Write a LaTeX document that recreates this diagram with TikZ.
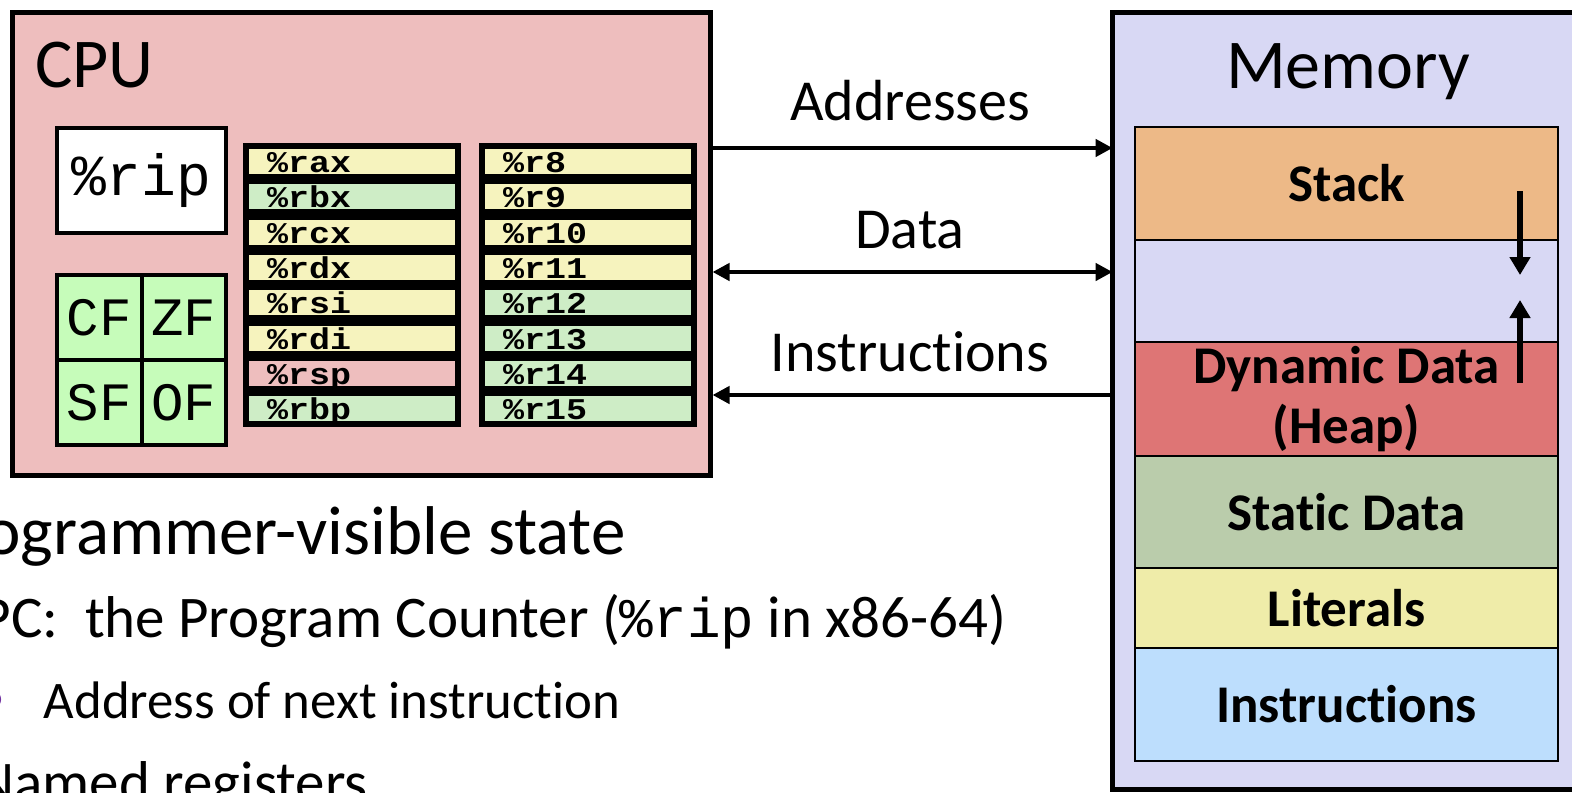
\documentclass[tikz,border=0pt]{standalone}
\usepackage{fontspec}
\setmainfont{Carlito}[Ligatures={NoCommon,NoRare}]
\setsansfont{Carlito}[Ligatures={NoCommon,NoRare}]
\setmonofont{Liberation Mono}
\usetikzlibrary{arrows.meta}
\definecolor{cpupink}{RGB}{238,190,190}
\definecolor{regyellow}{RGB}{246,243,190}
\definecolor{reggreen}{RGB}{206,237,198}
\definecolor{flaggreen}{RGB}{198,252,186}
\definecolor{memlav}{RGB}{216,216,244}
\definecolor{stackorange}{RGB}{237,185,135}
\definecolor{heapred}{RGB}{222,117,117}
\definecolor{staticgreen}{RGB}{186,204,171}
\definecolor{lityellow}{RGB}{239,236,169}
\definecolor{instrblue}{RGB}{189,222,253}
\definecolor{bulletpurple}{RGB}{112,48,160}
\newcommand{\regtext}[1]{\scalebox{1}[0.86]{#1}}
\begin{document}
\begin{tikzpicture}[x=0.5pt, y=-0.5pt,
    every node/.style={inner sep=0pt},
    >={Triangle[length=8.5pt,width=8.5pt]},
    bus/.style={line width=2.2pt},
    growth/.style={line width=2.8pt, -{Triangle[length=9pt,width=10pt]}},
    reg/.style={minimum width=103pt, minimum height=12.5pt, text height=11.75pt, text depth=0.75pt,
      inner xsep=9pt, text width=85pt, align=left, font=\ttfamily\bfseries\fontsize{17.5}{17.5}\selectfont},
    flag/.style={draw, line width=2pt, fill=flaggreen, minimum width=42.25pt, minimum height=42.5pt,
      font=\ttfamily\fontsize{27}{27}\selectfont},
    seg/.style={draw, line width=0.8pt, minimum width=211.5pt, align=center,
      font=\bfseries\fontsize{26.5}{30}\selectfont},
    buslabel/.style={anchor=base, font=\fontsize{29}{29}\selectfont}]
  \path[use as bounding box, fill=white] (0,0) rectangle (1572,792);

  \node[draw, line width=2.5pt, fill=cpupink, minimum width=349pt, minimum height=231pt] (cpu) at (361,244) {};
  \node[anchor=base west, font=\fontsize{35}{35}\selectfont] (cpulbl) at (35,88) {CPU};
  \node[draw, line width=2pt, fill=white, minimum width=84.5pt, minimum height=52.5pt,
    font=\ttfamily\fontsize{29}{29}\selectfont] (rip) at (141.5,180.5) {\%rip};

  \node[flag] (cf) at (99.25,317.5) {CF};
  \node[flag] (zf) at (183.75,317.5) {ZF};
  \node[flag] (sf) at (99.25,402.5) {SF};
  \node[flag] (of) at (183.75,402.5) {OF};

  \node[fill=black, minimum width=109pt, minimum height=142pt] (gprlo) at (352,285) {};
  \node[fill=black, minimum width=109pt, minimum height=142pt] (gprhi) at (588,285) {};
  \node[reg, fill=regyellow] (rax) at (352,161.5) {\regtext{\%rax}};
  \node[reg, fill=reggreen] (rbx) at (352,196.8) {\regtext{\%rbx}};
  \node[reg, fill=regyellow] (rcx) at (352,232.1) {\regtext{\%rcx}};
  \node[reg, fill=regyellow] (rdx) at (352,267.4) {\regtext{\%rdx}};
  \node[reg, fill=regyellow] (rsi) at (352,302.7) {\regtext{\%rsi}};
  \node[reg, fill=regyellow] (rdi) at (352,338.0) {\regtext{\%rdi}};
  \node[reg, fill=cpupink] (rsp) at (352,373.3) {\regtext{\%rsp}};
  \node[reg, fill=reggreen] (rbp) at (352,408.6) {\regtext{\%rbp}};
  \node[reg, fill=regyellow] (r8) at (588,161.5) {\regtext{\%r8}};
  \node[reg, fill=regyellow] (r9) at (588,196.8) {\regtext{\%r9}};
  \node[reg, fill=regyellow] (r10) at (588,232.1) {\regtext{\%r10}};
  \node[reg, fill=regyellow] (r11) at (588,267.4) {\regtext{\%r11}};
  \node[reg, fill=reggreen] (r12) at (588,302.7) {\regtext{\%r12}};
  \node[reg, fill=reggreen] (r13) at (588,338.0) {\regtext{\%r13}};
  \node[reg, fill=reggreen] (r14) at (588,373.3) {\regtext{\%r14}};
  \node[reg, fill=reggreen] (r15) at (588,408.6) {\regtext{\%r15}};

  \node[fill=memlav, minimum width=280pt, minimum height=388pt] (mem) at (1393,401) {};
  \draw[line width=2.5pt] (mem.north east) -- (mem.north west) -- (mem.south west) -- (mem.south east);
  \node[anchor=base, font=\fontsize{35}{35}\selectfont] (memlbl) at (1348,89) {Memory};
  \node[seg, fill=stackorange, minimum height=56.5pt] (stack) at (1346.5,183.5) {Stack};
  \node[seg, fill=memlav, minimum height=51pt] (free) at (1346.5,291) {};
  \node[seg, fill=heapred, minimum height=57pt] (heap) at (1346.5,399) {Dynamic Data\\(Heap)};
  \node[seg, fill=staticgreen, minimum height=56pt] (static) at (1346.5,512) {Static Data};
  \node[seg, fill=lityellow, minimum height=40pt] (literals) at (1346.5,608) {Literals};
  \node[seg, fill=instrblue, minimum height=56.5pt] (code) at (1346.5,704.5) {Instructions};

  \coordinate (stacktop) at (1520,191);
  \coordinate (stackgrow) at (1520,275);
  \coordinate (heaptop) at (1520,383);
  \coordinate (heapgrow) at (1520,300);
  \draw[growth] (stacktop) -- (stackgrow);
  \draw[growth] (heaptop) -- (heapgrow);

  \node[buslabel] (addrlbl) at (910,120) {Addresses};
  \node[buslabel] (datalbl) at (910,248) {Data};
  \node[buslabel] (instrlbl) at (910,371) {Instructions};
  \coordinate (addrbus) at (910,148);
  \coordinate (databus) at (910,272);
  \coordinate (instrbus) at (910,395);
  \draw[bus, ->] (cpu.east |- addrbus) -- (mem.west |- addrbus);
  \draw[bus, <->] (cpu.east |- databus) -- (mem.west |- databus);
  \draw[bus, <-] (cpu.east |- instrbus) -- (mem.west |- instrbus);

  \node[anchor=base east, font=\fontsize{34.5}{34.5}\selectfont] (pvs) at (626,554) {Programmer-visible state};
  \node[anchor=base east, font=\fontsize{29.5}{29.5}\selectfont] (pc) at (1007,637)
    {PC:\ \ the Program Counter ({\ttfamily\fontsize{28}{28}\selectfont\%rip} in x86-64)};
  \node[anchor=east, text=bulletpurple, font=\fontsize{26}{26}\selectfont] (blt) at (6,703) {\textbullet};
  \node[anchor=base west, font=\fontsize{26.4}{26.4}\selectfont] (nextaddr) at (43.5,718) {Address of next instruction};
  \node[anchor=base east, font=\fontsize{29.5}{29.5}\selectfont] (named) at (368,802) {Named registers};
\end{tikzpicture}
\end{document}
